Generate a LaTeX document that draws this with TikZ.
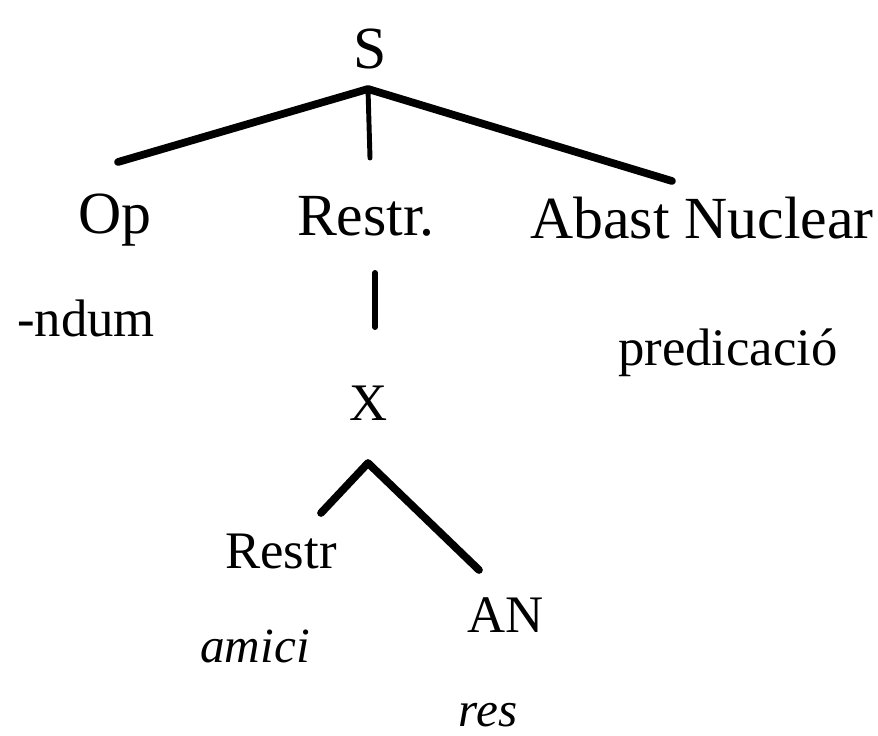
\documentclass[tikz,border=0pt]{standalone}
\usepackage{fontspec}
\setmainfont{Liberation Serif}
\begin{document}
\begin{tikzpicture}[x=0.01cm,y=-0.01cm,
  toplbl/.style={anchor=base,inner sep=0pt,font=\fontsize{17}{20}\selectfont},
  lbl/.style={anchor=base,inner sep=0pt,font=\fontsize{15}{18}\selectfont},
  ilbl/.style={anchor=base,inner sep=0pt,font=\fontsize{14}{17}\selectfont\itshape},
  branch/.style={line width=2.2pt,line cap=round,line join=round},
  stem/.style={line width=1.4pt,line cap=round}]
\useasboundingbox[fill=white] (0,0) rectangle (878,736);
% labels
\node[toplbl] (S) at (370,68) {S};
\node[toplbl] (Op) at (115,233) {Op};
\node[toplbl] (Restr1) at (366,235) {Restr.};
\node[toplbl] (AbN) at (702,238) {Abast Nuclear};
\node[lbl] (ndum) at (86,336) {-ndum};
\node[lbl] (pred) at (728,365) {predicació};
\node[lbl] (X) at (369,420) {X};
\node[lbl] (Restr2) at (281,568) {Restr};
\node[lbl] (AN) at (506,632) {AN};
\node[ilbl] (amici) at (255,662) {amici};
\node[ilbl] (res) at (488,726) {res};
% branch points
\coordinate (sTop) at (368,89);
\coordinate (opEnd) at (118,162);
\coordinate (rEnd) at (370,158);
\coordinate (aEnd) at (672,181);
\coordinate (rStemTop) at (375,273);
\coordinate (rStemBot) at (375,327);
\coordinate (xTop) at (368,463);
\coordinate (xL) at (321,513);
\coordinate (xR) at (479,570);
\draw[branch] (opEnd) -- (sTop) -- (aEnd);
\draw[stem] (sTop) -- (rEnd);
\draw[line width=1.7pt,line cap=round] (rStemTop) -- (rStemBot);
\draw[branch] (xL) -- (xTop) -- (xR);
\end{tikzpicture}
\end{document}
